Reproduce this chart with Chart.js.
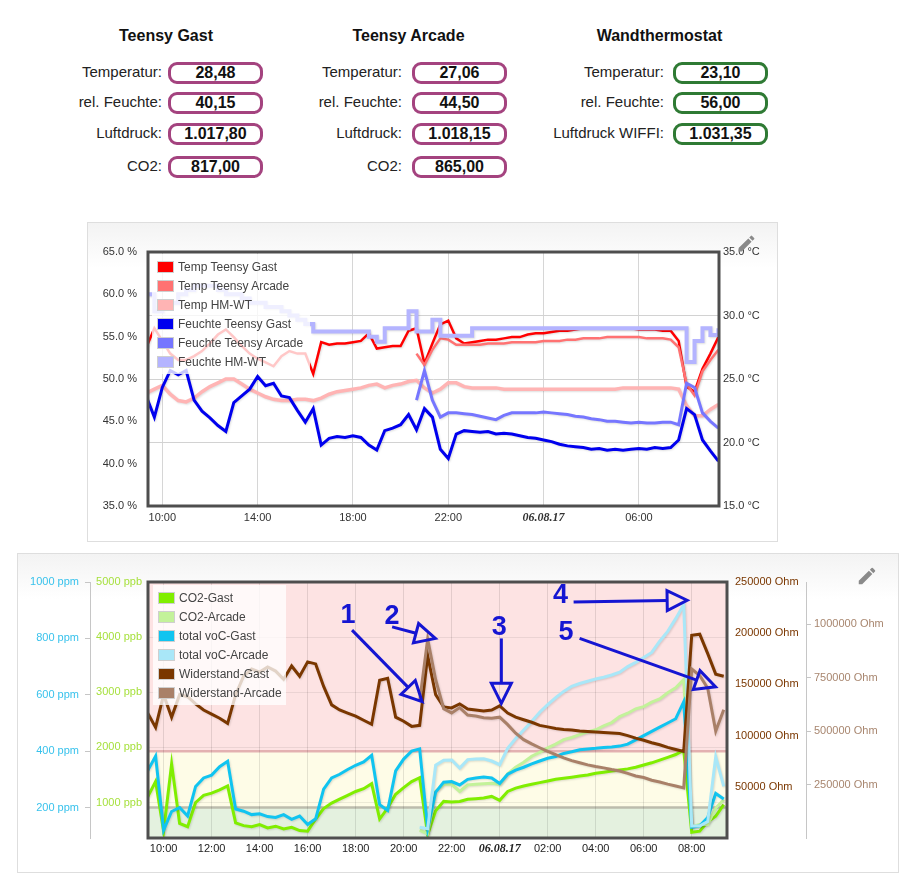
<!DOCTYPE html>
<html>
<head>
<meta charset="utf-8">
<title>Klima</title>
<script src="https://cdn.jsdelivr.net/npm/chart.js@4.4.1/dist/chart.umd.min.js"></script>
<style>
  body { margin: 0; background: #fff; font-family: "Liberation Sans", Arial, Helvetica, sans-serif; }
  #page { position: relative; width: 914px; height: 887px; overflow: hidden; }
  .title { position: absolute; width: 200px; text-align: center; font-weight: bold; font-size: 16px; line-height: 20px; color: #111; }
  .lbl { position: absolute; width: 200px; height: 22px; line-height: 22px; text-align: right; font-size: 15px; color: #222; }
  .val { position: absolute; box-sizing: border-box; width: 95px; height: 22px; border: 3px solid; border-radius: 9px;
         text-align: center; font-weight: bold; font-size: 16px; line-height: 16px; color: #111; background: #fff; }
  .panel { position: absolute; box-sizing: border-box; border: 1px solid #dedede; background: linear-gradient(#f3f3f3, #fff 45px); }
  canvas { position: absolute; }
  .legend { position: absolute; background: rgba(255,255,255,0.78); padding: 4px 0 2px 0; }
  .legend div { position: relative; height: 19px; line-height: 19px; font-size: 12px; color: #444; padding-left: 26px; white-space: nowrap; }
  .legend span { position: absolute; left: 5px; top: 3px; width: 15px; height: 10px; border: 1px solid #cfcfcf; }
  .pencil { position: absolute; }
</style>
</head>
<body>
<div id="page">
  <div class="panel" style="left:87px; top:222px; width:691px; height:320px;"></div>
  <div class="panel" style="left:17px; top:553px; width:882px; height:320px;"></div>
  <canvas id="klima" width="690" height="319" style="left:87px; top:222px;"></canvas>
  <canvas id="luft" width="880" height="319" style="left:18px; top:553px;"></canvas>
  <svg class="pencil" style="left:736px; top:233px;" width="21" height="21" viewBox="0 0 24 24"><path fill="#8a8a8a" d="M3 17.25V21h3.75L17.81 9.94l-3.75-3.75L3 17.25zM20.71 7.04a1 1 0 0 0 0-1.41l-2.34-2.34a1 1 0 0 0-1.41 0l-1.83 1.830 3.75 3.75 1.83-1.83z"/></svg>
  <svg class="pencil" style="left:856px; top:565px;" width="22" height="22" viewBox="0 0 24 24"><path fill="#8a8a8a" d="M3 17.25V21h3.75L17.81 9.94l-3.75-3.75L3 17.25zM20.71 7.04a1 1 0 0 0 0-1.41l-2.34-2.34a1 1 0 0 0-1.41 0l-1.83 1.83 3.75 3.75 1.83-1.83z"/></svg>
</div>
<script>
// --- Kopfwerte ---
const gastInfo = [['Temperatur:', '28,48'], ['rel. Feuchte:', '40,15'], ['Luftdruck:', '1.017,80'], ['CO2:', '817,00']];
const arcadeInfo = [['Temperatur:', '27,06'], ['rel. Feuchte:', '44,50'], ['Luftdruck:', '1.018,15'], ['CO2:', '865,00']];
const wandInfo = [['Temperatur:', '23,10'], ['rel. Feuchte:', '56,00'], ['Luftdruck WIFFI:', '1.031,35']];

// --- Messzeitpunkte (alle 20 min, 05.08. 09:20 bis 06.08. 09:20) ---
const sampleTimes = [
  '09:20','09:40','10:00','10:20','10:40','11:00','11:20','11:40','12:00','12:20','12:40','13:00','13:20','13:40',
  '14:00','14:20','14:40','15:00','15:20','15:40','16:00','16:20','16:40','17:00','17:20','17:40','18:00','18:20',
  '18:40','19:00','19:20','19:40','20:00','20:20','20:40','21:00','21:20','21:40','22:00','22:20','22:40','23:00',
  '23:20','23:40','00:00','00:20','00:40','01:00','01:20','01:40','02:00','02:20','02:40','03:00','03:20','03:40',
  '04:00','04:20','04:40','05:00','05:20','05:40','06:00','06:20','06:40','07:00','07:20','07:40','08:00','08:20',
  '08:40','09:00','09:20'];
const arcadeStart = '20:40'; // Arcade-Sensoren liefern erst ab hier

// --- Klima (Temperatur in °C, Feuchte in %) ---
const tempGast = [27.5, 29.0, 28.0, 27.0, 26.5, 26.5, 26.8, 27.2, 27.8, 28.5,
  28.9, 28.3, 27.6, 27.0, 26.6, 26.3, 26.0, 26.8, 27.2, 27.0,
  27.0, 25.4, 27.9, 27.7, 27.8, 27.8, 27.9, 28.0, 28.6, 27.4,
  27.5, 27.6, 27.6, 28.8, 29.0, 26.2, 27.8, 29.3, 29.6, 28.2,
  27.8, 27.9, 28.0, 28.1, 28.1, 28.2, 28.3, 28.3, 28.5, 28.6,
  28.6, 28.7, 28.8, 28.8, 28.9, 29.0, 29.0, 29.0, 29.0, 29.0,
  29.0, 29.0, 28.9, 28.9, 28.9, 28.8, 28.8, 28.0, 24.4, 24.0,
  25.8, 27.0, 28.3];
const tempArcade = [27.0, 26.1, 27.3, 28.2, 28.1, 27.7, 27.7, 27.7, 27.7, 27.8,
  27.8, 27.8, 27.9, 27.9, 27.9, 27.9, 28.0, 28.0, 28.0, 28.1,
  28.1, 28.2, 28.2, 28.2, 28.3, 28.3, 28.3, 28.3, 28.3, 28.2,
  28.2, 28.2, 28.1, 27.5, 24.6, 23.7, 25.6, 26.5, 27.3];
const tempHmwt = [23.9, 24.2, 24.5, 23.8, 23.3, 23.2, 23.5, 24.0, 24.4, 24.7,
  25.0, 25.0, 24.6, 24.2, 23.9, 23.6, 23.4, 23.3, 23.3, 23.4,
  23.4, 23.3, 23.5, 23.8, 24.0, 24.1, 24.2, 24.3, 24.5, 24.6,
  24.3, 24.5, 24.6, 24.8, 24.9, 24.3, 23.9, 24.2, 24.7, 24.7,
  24.4, 24.3, 24.3, 24.3, 24.3, 24.2, 24.2, 24.2, 24.2, 24.2,
  24.2, 24.2, 24.2, 24.2, 24.2, 24.2, 24.2, 24.2, 24.2, 24.2,
  24.3, 24.3, 24.3, 24.3, 24.3, 24.3, 24.3, 24.2, 22.9, 22.1,
  22.1, 22.6, 23.0];
const humGast = [47.9, 45.5, 49.0, 51.0, 50.5, 51.0, 47.5, 46.2, 45.4, 44.5,
  43.8, 47.2, 48.0, 48.8, 50.3, 49.2, 49.5, 48.0, 47.8, 46.3,
  44.9, 46.5, 42.2, 43.0, 43.2, 43.1, 43.3, 43.1, 42.2, 41.6,
  43.9, 44.2, 44.6, 45.8, 44.0, 46.5, 45.5, 41.7, 40.6, 43.5,
  43.9, 43.8, 43.7, 43.8, 43.5, 43.6, 43.5, 43.3, 43.1, 43.0,
  42.8, 42.6, 42.3, 42.1, 42.0, 41.9, 41.7, 41.8, 41.6, 41.7,
  41.6, 41.7, 41.8, 41.7, 41.9, 41.8, 41.9, 42.8, 46.5, 45.8,
  42.8, 41.5, 40.3];
const humArcade = [47.5, 51.0, 47.5, 45.5, 46.0, 46.0, 45.9, 45.8, 45.6, 45.4,
  45.2, 45.7, 46.0, 46.0, 46.0, 46.0, 46.1, 46.0, 45.9, 45.8,
  45.6, 45.5, 45.3, 45.2, 45.0, 45.0, 44.9, 44.8, 44.9, 44.8,
  44.8, 44.9, 44.9, 44.6, 49.5, 49.0, 46.0, 45.0, 44.2];
const humHmwt = [60.0, 58.0, 58.5, 59.0, 60.0, 60.5, 61.0, 61.0, 61.0, 60.5,
  60.0, 60.0, 59.5, 59.0, 59.0, 58.5, 58.5, 58.0, 57.5, 57.0,
  56.5, 55.6, 55.6, 55.6, 55.6, 55.6, 55.6, 55.6, 55.0, 54.4,
  56.0, 56.0, 56.0, 58.0, 55.6, 55.6, 57.0, 55.1, 55.1, 55.1,
  55.1, 56.0, 56.0, 56.0, 56.0, 56.0, 56.0, 56.0, 56.0, 56.0,
  56.0, 56.0, 56.0, 56.0, 56.0, 56.0, 56.0, 56.0, 56.0, 56.0,
  56.0, 56.0, 56.0, 56.0, 56.0, 56.0, 56.0, 56.0, 52.0, 54.5,
  56.0, 55.2, 56.0];

// --- Luft (CO2 in ppb, tVOC in ppm, Widerstand in Ohm) ---
const co2Gast = [1100, 1380, 480, 1700, 620, 560, 1000, 1130, 1170, 1230,
  1300, 630, 580, 560, 600, 540, 570, 520, 550, 490,
  480, 700, 890, 990, 1060, 1130, 1200, 1250, 1340, 700,
  900, 1150, 1270, 1380, 1450, 420, 850, 1020, 1010, 1020,
  1060, 1070, 1080, 1110, 1040, 1200, 1260, 1300, 1330, 1360,
  1390, 1420, 1440, 1460, 1480, 1500, 1530, 1550, 1570, 1590,
  1610, 1640, 1680, 1720, 1770, 1820, 1870, 1950, 460, 480,
  650, 750, 960];
const co2Arcade = [500, 430, 1200, 1330, 1330, 1200, 1320, 1330, 1340, 1350,
  1330, 1520, 1640, 1730, 1840, 1910, 1990, 2060, 2140, 2180,
  2230, 2280, 2320, 2390, 2450, 2560, 2620, 2700, 2740, 2820,
  2880, 2990, 3080, 3230, 560, 600, 600, 900, 1050];
const vocGast = [330, 382, 120, 186, 200, 170, 275, 305, 315, 345,
  364, 195, 187, 175, 178, 168, 165, 175, 158, 170,
  140, 160, 265, 305, 318, 335, 350, 362, 385, 210,
  190, 330, 372, 400, 408, 125, 255, 290, 292, 280,
  300, 305, 308, 305, 285, 318, 333, 343, 355, 365,
  375, 381, 392, 398, 405, 408, 410, 413, 415, 418,
  425, 440, 455, 470, 485, 500, 515, 575, 130, 135,
  165, 250, 230];
const vocArcade = [130, 125, 350, 368, 369, 340, 370, 372, 373, 365,
  352, 410, 445, 475, 505, 538, 565, 590, 612, 630,
  640, 648, 656, 662, 670, 680, 700, 715, 732, 750,
  790, 825, 870, 920, 135, 135, 150, 380, 275];
const ohmGast = [122000, 108000, 140000, 118000, 140000, 138000, 131000, 125000, 121000, 117000,
  112000, 140000, 158000, 165000, 162000, 167000, 163000, 155000, 168000, 158000,
  172000, 170000, 148000, 130000, 125000, 122000, 119000, 115000, 111000, 154000,
  156000, 118000, 114000, 109000, 110000, 178000, 140000, 128000, 127000, 131000,
  126000, 125000, 124000, 125000, 129000, 122000, 118000, 115500, 113000, 110000,
  108500, 107000, 106000, 105500, 104500, 104000, 103500, 103000, 102500, 102000,
  100000, 97500, 95500, 93000, 91000, 88500, 86500, 84500, 198000, 199000,
  180000, 160000, 158000];
const ohmArcade = [640000, 930000, 740000, 605000, 585000, 610000, 575000, 570000, 562000, 560000,
  565000, 530000, 490000, 460000, 440000, 422000, 405000, 390000, 375000, 362000,
  352000, 342000, 334000, 328000, 320000, 313000, 302000, 290000, 283000, 270000,
  262000, 252000, 243000, 234000, 790000, 760000, 700000, 500000, 600000];

// --- Achsen ---
const klimaTicks = [10, 14, 18, 22, 26, 30];
const klimaTickLabels = ['10:00', '14:00', '18:00', '22:00', '06.08.17', '06:00'];
const luftTicks = [10, 12, 14, 16, 18, 20, 22, 24, 26, 28, 30, 32];
const luftTickLabels = ['10:00', '12:00', '14:00', '16:00', '18:00', '20:00', '22:00', '06.08.17', '02:00', '04:00', '06:00', '08:00'];
const humTicks = [35, 40, 45, 50, 55, 60, 65];
const tempTicks = [15, 20, 25, 30, 35];
const ppmTicks = [200, 400, 600, 800, 1000];
const ppbTicks = [1000, 2000, 3000, 4000, 5000];
const ohmGastTicks = [50000, 100000, 150000, 200000, 250000];
const ohmArcadeTicks = [250000, 500000, 750000, 1000000];
const bandLimits = [200, 400]; // ppm: gut / mittel / schlecht

// --- Markierungen (Stunde, Ohm Gast) ---
const arrowNotes = [
  { text: '1', at: [17.68, 217300], from: [17.85, 203000], to: [20.77, 133100] },
  { text: '2', at: [19.52, 216400], from: [19.52, 206200], to: [21.32, 194900] },
  { text: '3', at: [23.98, 205200], from: [24.07, 194900], to: [24.07, 131500] },
  { text: '4', at: [26.53, 237000], from: [27.08, 230500], to: [31.81, 232200] },
  { text: '5', at: [26.76, 200700], from: [27.33, 194900], to: [32.99, 147700] }
];

const sansFont = '"Liberation Sans", Arial, Helvetica, sans-serif';
const dateFont = { family: '"Liberation Serif", "Times New Roman", serif', size: 12, weight: 'bold', style: 'italic' };

// Zeiten in Stunden ab 05.08. 00:00
let dayOffset = 0, lastHour = -1;
const sampleHours = sampleTimes.map(t => {
  const [hh, mm] = t.split(':').map(Number);
  const h = hh + mm / 60;
  if (h < lastHour) dayOffset += 24;
  lastHour = h;
  return h + dayOffset;
});
const arcadeIndex = sampleTimes.indexOf(arcadeStart);
const points = (vals, start = 0) => vals.map((y, i) => ({ x: sampleHours[start + i], y }));

// Kopfbereich aufbauen
const page = document.getElementById('page');
function addInfo(title, titleCenter, labelRight, boxLeft, rows, color) {
  const t = document.createElement('div');
  t.className = 'title'; t.textContent = title;
  t.style.left = (titleCenter - 100) + 'px'; t.style.top = '26px';
  page.appendChild(t);
  const rowTops = [62, 92, 123, 156];
  rows.forEach(([label, value], i) => {
    const l = document.createElement('div');
    l.className = 'lbl'; l.textContent = label;
    l.style.left = (labelRight - 200) + 'px'; l.style.top = (rowTops[i] - 1) + 'px';
    page.appendChild(l);
    const v = document.createElement('div');
    v.className = 'val'; v.textContent = value;
    v.style.left = boxLeft + 'px'; v.style.top = rowTops[i] + 'px'; v.style.borderColor = color;
    page.appendChild(v);
  });
}
addInfo('Teensy Gast', 166, 162, 168, gastInfo, '#a4437f');
addInfo('Teensy Arcade', 408.5, 402, 412, arcadeInfo, '#a4437f');
addInfo('Wandthermostat', 659.5, 664, 673, wandInfo, '#2f7a34');

function addLegend(chart, canvas, dx, dy, width) {
  const box = document.createElement('div');
  box.className = 'legend';
  box.style.left = (canvas.offsetLeft + chart.chartArea.left + dx) + 'px';
  box.style.top = (canvas.offsetTop + chart.chartArea.top + dy) + 'px';
  box.style.width = width + 'px';
  chart.data.datasets.forEach(ds => {
    const row = document.createElement('div');
    const sw = document.createElement('span');
    sw.style.background = ds.borderColor;
    row.appendChild(sw);
    row.appendChild(document.createTextNode(ds.label));
    box.appendChild(row);
  });
  page.appendChild(box);
}

const shadowPlugin = {
  id: 'lineShadow',
  beforeDatasetDraw(chart) {
    const ctx = chart.ctx;
    ctx.save();
    ctx.shadowColor = 'rgba(0,0,0,0.13)';
    ctx.shadowBlur = 2; ctx.shadowOffsetX = 1; ctx.shadowOffsetY = 1;
  },
  afterDatasetDraw(chart) { chart.ctx.restore(); }
};

const framePlugin = {
  id: 'plotFrame',
  beforeDraw(chart) {
    const { ctx, chartArea: a } = chart;
    if (chart.canvas.id === 'klima') {
      ctx.fillStyle = '#fff';
      ctx.fillRect(a.left, a.top, a.width, a.height);
    } else {
      const ppm = chart.scales.ppm;
      const yGood = ppm.getPixelForValue(bandLimits[0]);
      const yBad = ppm.getPixelForValue(bandLimits[1]);
      ctx.fillStyle = '#fde3e3'; ctx.fillRect(a.left, a.top, a.width, yBad - a.top);
      ctx.fillStyle = '#fefce7'; ctx.fillRect(a.left, yBad, a.width, yGood - yBad);
      ctx.fillStyle = '#e4f1df'; ctx.fillRect(a.left, yGood, a.width, a.bottom - yGood);
      ctx.lineWidth = 2.5;
      ctx.strokeStyle = '#e3b1b1';
      ctx.beginPath(); ctx.moveTo(a.left, yBad); ctx.lineTo(a.right, yBad); ctx.stroke();
      ctx.strokeStyle = '#bcbcad';
      ctx.beginPath(); ctx.moveTo(a.left, yGood); ctx.lineTo(a.right, yGood); ctx.stroke();
    }
  },
  afterDatasetsDraw(chart) {
    const { ctx, chartArea: a } = chart;
    ctx.save();
    ctx.strokeStyle = '#4e4e4e';
    ctx.lineWidth = 3;
    ctx.strokeRect(a.left, a.top, a.width, a.height);
    ctx.restore();
  }
};

const arrowPlugin = {
  id: 'arrowNotes',
  afterDatasetsDraw(chart) {
    const { ctx, scales } = chart;
    const px = v => scales.x.getPixelForValue(v);
    const py = v => scales.ohmGast.getPixelForValue(v);
    ctx.save();
    ctx.strokeStyle = '#1515d2';
    ctx.fillStyle = '#1515d2';
    ctx.lineWidth = 3;
    arrowNotes.forEach(n => {
      const fx = px(n.from[0]), fy = py(n.from[1]);
      const tx = px(n.to[0]), ty = py(n.to[1]);
      const ang = Math.atan2(ty - fy, tx - fx);
      const bx = tx - 20 * Math.cos(ang), by = ty - 20 * Math.sin(ang);
      const ox = 10 * Math.sin(ang), oy = -10 * Math.cos(ang);
      ctx.beginPath(); ctx.moveTo(fx, fy); ctx.lineTo(bx, by); ctx.stroke();
      ctx.beginPath();
      ctx.moveTo(tx, ty); ctx.lineTo(bx + ox, by + oy); ctx.lineTo(bx - ox, by - oy); ctx.closePath();
      ctx.stroke();
      ctx.font = 'bold 27px ' + sansFont;
      ctx.textAlign = 'center';
      ctx.textBaseline = 'middle';
      ctx.fillText(n.text, px(n.at[0]), py(n.at[1]));
    });
    ctx.restore();
  }
};

const fixTicks = list => scale => { scale.ticks = list.map(value => ({ value })); };
const tickFont = { family: sansFont, size: 11 };

function lineSet(label, data, color, width, extra) {
  return Object.assign({ label, data, borderColor: color, backgroundColor: color, borderWidth: width,
    pointRadius: 0, tension: 0, fill: false, spanGaps: false }, extra || {});
}

// --- Diagramm Klima ---
const klimaSets = [
  lineSet('Temp Teensy Gast', points(tempGast), '#ff0000', 2.5, { yAxisID: 'temp' }),
  lineSet('Temp Teensy Arcade', points(tempArcade, arcadeIndex), '#ff7272', 2.5, { yAxisID: 'temp' }),
  lineSet('Temp HM-WT', points(tempHmwt), '#ffb4b4', 3.5, { yAxisID: 'temp' }),
  lineSet('Feuchte Teensy Gast', points(humGast), '#0000ee', 3, { yAxisID: 'hum' }),
  lineSet('Feuchte Teensy Arcade', points(humArcade, arcadeIndex), '#7676ff', 3, { yAxisID: 'hum' }),
  lineSet('Feuchte HM-WT', points(humHmwt), '#b4b4ff', 4, { yAxisID: 'hum', stepped: true })
];
klimaSets.forEach((ds, i) => { ds.order = klimaSets.length - i; });

const klimaCanvas = document.getElementById('klima');
const klimaChart = new Chart(klimaCanvas, {
  type: 'line',
  data: { datasets: klimaSets },
  options: {
    responsive: false, animation: false, devicePixelRatio: 1,
    layout: { padding: { top: 30 } },
    plugins: { legend: { display: false }, tooltip: { enabled: false } },
    scales: {
      x: {
        type: 'linear', min: 9.4, max: 33.36,
        afterBuildTicks: fixTicks(klimaTicks),
        afterFit: s => { s.height = 35; },
        grid: { color: '#d6d6d6', drawTicks: false },
        border: { display: false },
        ticks: {
          padding: 5, color: '#333', autoSkip: false, maxRotation: 0,
          font: c => (c.tick && c.tick.value === klimaTicks[4]) ? dateFont : tickFont,
          callback: (v, i) => klimaTickLabels[i]
        }
      },
      hum: {
        position: 'left', min: 35, max: 65,
        afterBuildTicks: fixTicks(humTicks),
        afterFit: s => { s.width = 61; },
        grid: { display: false, drawTicks: false }, border: { display: false },
        ticks: { padding: 11, color: '#333', font: tickFont, callback: v => v.toFixed(1) + ' %' }
      },
      temp: {
        position: 'right', min: 15, max: 35,
        afterBuildTicks: fixTicks(tempTicks),
        afterFit: s => { s.width = 58; },
        grid: { color: '#d2d2d2', drawTicks: false }, border: { display: false },
        ticks: { padding: 4, color: '#333', font: tickFont, callback: v => v.toFixed(1) + ' °C' }
      }
    }
  },
  plugins: [framePlugin, shadowPlugin]
});
addLegend(klimaChart, klimaCanvas, 4, 2, 158);

// --- Diagramm Luft ---
const luftSets = [
  lineSet('CO2-Gast', points(co2Gast), '#80ee00', 3, { yAxisID: 'ppb' }),
  lineSet('CO2-Arcade', points(co2Arcade, arcadeIndex), '#c3f29a', 3, { yAxisID: 'ppb' }),
  lineSet('total voC-Gast', points(vocGast), '#10c4f0', 3, { yAxisID: 'ppm' }),
  lineSet('total voC-Arcade', points(vocArcade, arcadeIndex), '#a9e7f8', 3, { yAxisID: 'ppm' }),
  lineSet('Widerstand-Gast', points(ohmGast), '#7a3700', 3, { yAxisID: 'ohmGast' }),
  lineSet('Widerstand-Arcade', points(ohmArcade, arcadeIndex), '#a98068', 3, { yAxisID: 'ohmArcade' })
];
luftSets.forEach((ds, i) => { ds.order = luftSets.length - i; });

const luftCanvas = document.getElementById('luft');
const luftChart = new Chart(luftCanvas, {
  type: 'line',
  data: { datasets: luftSets },
  options: {
    responsive: false, animation: false, devicePixelRatio: 1,
    layout: { padding: { top: 29 } },
    plugins: { legend: { display: false }, tooltip: { enabled: false } },
    scales: {
      x: {
        type: 'linear', min: 9.35, max: 33.47,
        afterBuildTicks: fixTicks(luftTicks),
        afterFit: s => { s.height = 34; },
        grid: { color: 'rgba(0,0,0,0.1)', drawTicks: false },
        border: { display: false },
        ticks: {
          padding: 4, color: '#222', autoSkip: false, maxRotation: 0,
          font: c => (c.tick && c.tick.value === luftTicks[7]) ? dateFont : tickFont,
          callback: (v, i) => luftTickLabels[i]
        }
      },
      ppb: {
        position: 'left', weight: 0, min: 356, max: 5000,
        afterBuildTicks: fixTicks(ppbTicks),
        afterFit: s => { s.width = 58; },
        grid: { color: 'rgba(0,0,0,0.07)', drawTicks: false }, border: { display: false },
        ticks: { padding: 6, color: '#a6e03c', font: tickFont, callback: v => v + ' ppb' }
      },
      ppm: {
        position: 'left', weight: 1, min: 92, max: 1000,
        afterBuildTicks: fixTicks(ppmTicks),
        afterFit: s => { s.width = 72; },
        grid: { drawOnChartArea: false, drawTicks: true, tickLength: 5, color: '#c6c6c6' },
        border: { display: true, color: '#c6c6c6', width: 1 },
        ticks: { padding: 6, color: '#38c2ec', font: tickFont, callback: v => v + ' ppm' }
      },
      ohmGast: {
        position: 'right', weight: 0, min: 0, max: 250000,
        afterBuildTicks: fixTicks(ohmGastTicks),
        afterFit: s => { s.width = 79; },
        grid: { display: false, drawTicks: false }, border: { display: false },
        ticks: { padding: 8, color: '#7a3700', font: tickFont, callback: v => v + ' Ohm' }
      },
      ohmArcade: {
        position: 'right', weight: 1, min: 0, max: 1197000,
        afterBuildTicks: fixTicks(ohmArcadeTicks),
        afterFit: s => { s.width = 92; },
        grid: { drawOnChartArea: false, drawTicks: true, tickLength: 5, color: '#c6c6c6' },
        border: { display: true, color: '#c6c6c6', width: 1 },
        ticks: { padding: 3, color: '#a8866f', font: tickFont, callback: v => v + ' Ohm' }
      }
    }
  },
  plugins: [framePlugin, shadowPlugin, arrowPlugin]
});
addLegend(luftChart, luftCanvas, 5, 3, 133);
</script>
</body>
</html>
